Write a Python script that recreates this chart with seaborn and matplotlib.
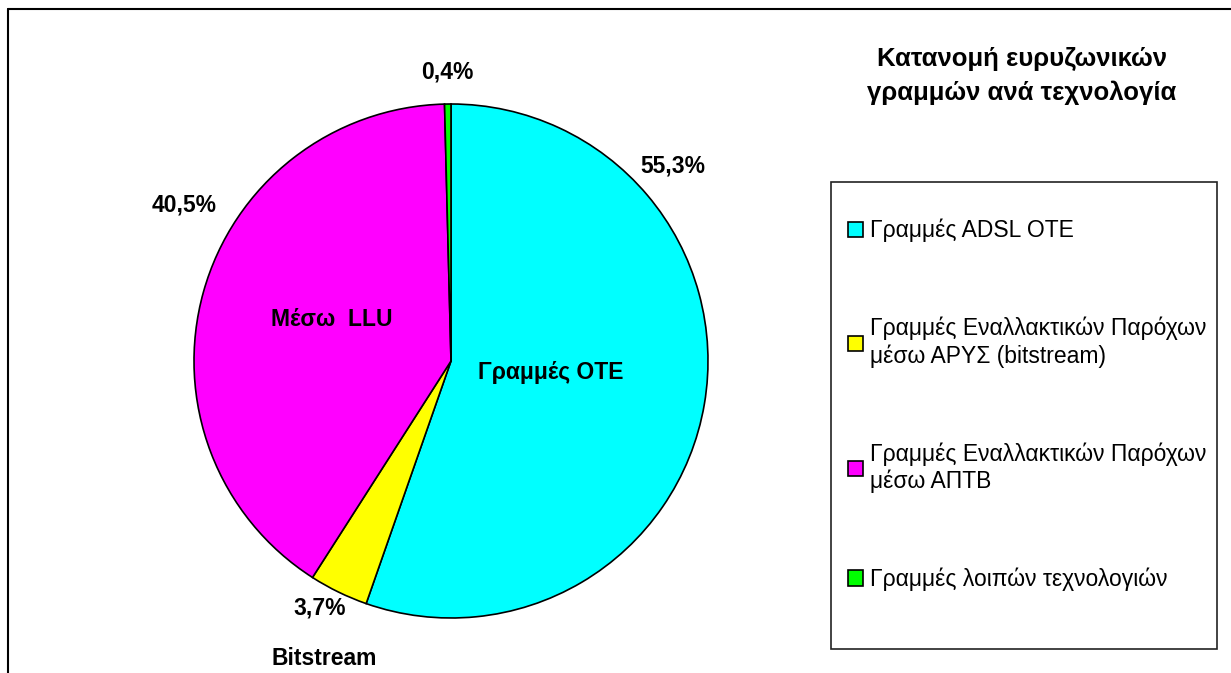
import matplotlib

matplotlib.use('Agg')
import matplotlib.pyplot as plt
import seaborn as sns
from matplotlib.lines import Line2D
from matplotlib.patches import Rectangle

sns.set_theme(style='white')
plt.rcParams['font.family'] = ['Liberation Sans', 'DejaVu Sans']
plt.rcParams['text.color'] = 'black'

# data
categories = ['Γραμμές ADSL OTE',
              'Γραμμές Εναλλακτικών Παρόχων\nμέσω ΑΡΥΣ (bitstream)',
              'Γραμμές Εναλλακτικών Παρόχων\nμέσω ΑΠΤΒ',
              'Γραμμές λοιπών τεχνολογιών']
shares = [55.3, 3.7, 40.5, 0.4]
pct_labels = ['55,3%', '3,7%', '40,5%', '0,4%']
colors = ['#00FFFF', '#FFFF00', '#FF00FF', '#00FF00']
title = 'Κατανομή ευρυζωνικών\nγραμμών ανά τεχνολογία'

W, H = 1231, 673
fig = plt.figure(figsize=(W / 100, H / 100), dpi=100)

# pie: centre (451, 361) px, radius 257 px
cx, cy, r = 451, 361, 257
ax = fig.add_axes([(cx - r) / W, (H - cy - r) / H, 2 * r / W, 2 * r / H])
wedges, _ = ax.pie(shares, colors=colors, startangle=90, counterclock=False,
                   wedgeprops=dict(edgecolor='black', linewidth=1.2))
ax.set_xlim(-1, 1)
ax.set_ylim(-1, 1)
ax.set_aspect('equal')
ax.axis('off')

# percentage labels, outside the pie (positions as placed in the source)
pct_pos = [(0.864, 0.759), (-0.510, -0.961), (-1.039, 0.607), (-0.016, 1.125)]
for txt, (x, y) in zip(pct_labels, pct_pos):
    ax.text(x, y, txt, ha='center', va='center', fontsize=16.5, fontweight='bold')

# category names on the pie
names = [('Γραμμές OTE', 0.389, -0.043),
         ('Μέσω  LLU', -0.463, 0.160),
         ('Bitstream', -0.494, -1.156)]
for txt, x, y in names:
    ax.text(x, y, txt, ha='center', va='center', fontsize=16.5, fontweight='bold')

# title
fig.text(1022 / W, 1 - 76 / H, title, ha='center', va='center', fontsize=18.5,
         fontweight='bold', linespacing=1.45)

# legend box and entries
fig.add_artist(Rectangle((831 / W, 1 - 649 / H), (1217 - 831) / W, (649 - 182) / H,
                         transform=fig.transFigure, fill=False, edgecolor='#222222',
                         linewidth=1.2))
fig.legend(wedges, categories, loc='upper left', bbox_to_anchor=(848 / W, 1 - 219 / H),
           frameon=False, fontsize=16.5, handlelength=0.66, handleheight=0.66,
           handletextpad=0.3, labelspacing=3.25, borderpad=0, borderaxespad=0)

# outer frame (top and left edges)
fig.add_artist(Line2D([8 / W, 1.0], [1 - 8.5 / H, 1 - 8.5 / H], transform=fig.transFigure,
                      color='black', linewidth=1.5))
fig.add_artist(Line2D([8 / W, 8 / W], [0.0, 1 - 8.5 / H], transform=fig.transFigure,
                      color='black', linewidth=1.5))

fig.savefig('out.png', dpi=100)
